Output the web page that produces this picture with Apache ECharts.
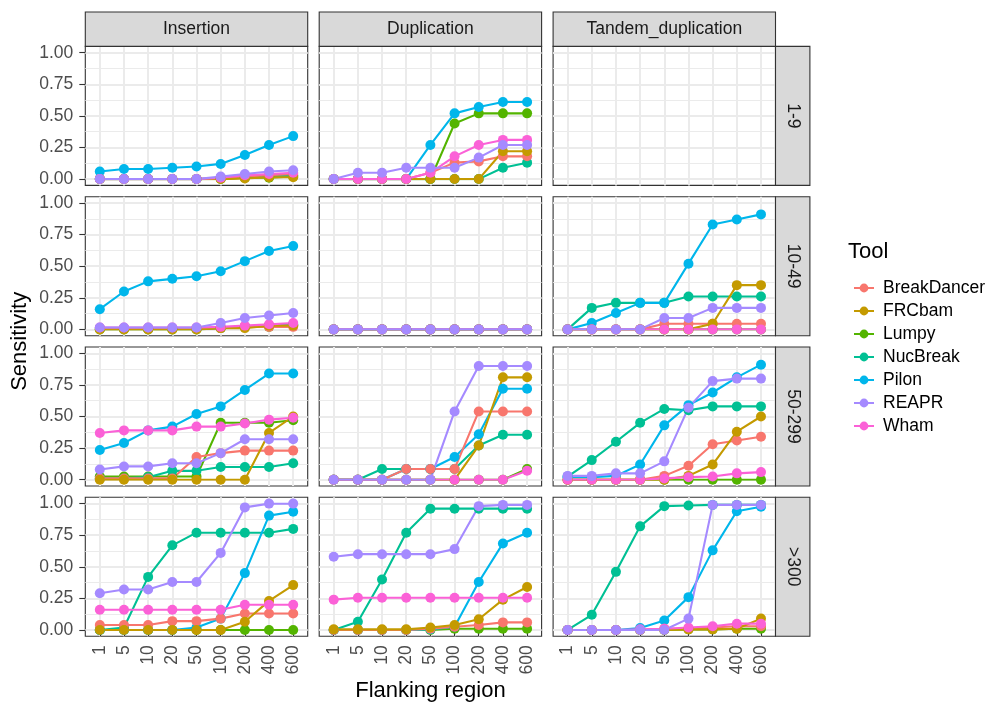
<!DOCTYPE html>
<html><head><meta charset="utf-8">
<script src="https://cdn.jsdelivr.net/npm/echarts@6/dist/echarts.min.js"></script>
<style>html,body{margin:0;padding:0;background:#fff}#c{width:994px;height:706px}</style>
</head><body><div id="c"></div>
<script>
// ---------------- data ----------------
const categories = ['1', '5', '10', '20', '50', '100', '200', '400', '600'];
const svTypes = ['Insertion', 'Duplication', 'Tandem_duplication'];
const sizeBins = ['1-9', '10-49', '50-299', '>300'];
const tools = ['BreakDancer', 'FRCbam', 'Lumpy', 'NucBreak', 'Pilon', 'REAPR', 'Wham'];
const toolColors = ['#F8766D', '#C49A00', '#53B400', '#00C094', '#00B6EB', '#A58AFF', '#FB61D7'];
const yTicks = [0, 0.25, 0.5, 0.75, 1];

// each panel: one row per tool (tool order above), one value per flanking category
const ins_1_9 = [
  [0, 0, 0, 0, 0, 0.01, 0.02, 0.03, 0.04],
  [0, 0, 0, 0, 0, 0, 0.005, 0.015, 0.015],
  [0, 0, 0, 0, 0, 0, 0.01, 0.01, 0.02],
  [0, 0, 0, 0, 0, 0.005, 0.01, 0.02, 0.03],
  [0.06, 0.08, 0.08, 0.09, 0.10, 0.12, 0.19, 0.27, 0.34],
  [0, 0, 0, 0, 0, 0.02, 0.04, 0.06, 0.07],
  [0, 0, 0, 0, 0, 0.01, 0.03, 0.04, 0.05]
];
const dup_1_9 = [
  [0, 0, 0, 0, 0.05, 0.13, 0.14, 0.18, 0.18],
  [0, 0, 0, 0, 0, 0, 0, 0.22, 0.22],
  [0, 0, 0, 0, 0, 0.44, 0.52, 0.52, 0.52],
  [0, 0, 0, 0, 0, 0, 0, 0.09, 0.13],
  [0, 0, 0, 0, 0.27, 0.52, 0.57, 0.61, 0.61],
  [0, 0.05, 0.05, 0.09, 0.09, 0.09, 0.17, 0.27, 0.27],
  [0, 0, 0, 0, 0.05, 0.18, 0.27, 0.31, 0.31]
];
const tan_1_9 = [[], [], [], [], [], [], []];
const ins_10_49 = [
  [0.01, 0.01, 0.01, 0.01, 0.01, 0.01, 0.02, 0.02, 0.02],
  [0, 0, 0, 0, 0, 0.01, 0.01, 0.03, 0.03],
  [0, 0, 0, 0, 0, 0.01, 0.02, 0.02, 0.03],
  [0.005, 0.005, 0.005, 0.005, 0.005, 0.01, 0.02, 0.03, 0.04],
  [0.16, 0.30, 0.38, 0.40, 0.42, 0.46, 0.54, 0.62, 0.66],
  [0.015, 0.015, 0.015, 0.015, 0.015, 0.05, 0.09, 0.11, 0.13],
  [0.015, 0.015, 0.015, 0.015, 0.015, 0.02, 0.03, 0.04, 0.05]
];
const dup_10_49 = [
  [0, 0, 0, 0, 0, 0, 0, 0, 0],
  [0, 0, 0, 0, 0, 0, 0, 0, 0],
  [0, 0, 0, 0, 0, 0, 0, 0, 0],
  [0, 0, 0, 0, 0, 0, 0, 0, 0],
  [0, 0, 0, 0, 0, 0, 0, 0, 0],
  [0, 0, 0, 0, 0, 0, 0, 0, 0],
  [0, 0, 0, 0, 0, 0, 0, 0, 0]
];
const tan_10_49 = [
  [0, 0, 0, 0, 0.045, 0.045, 0.045, 0.045, 0.045],
  [0, 0, 0, 0, 0, 0, 0.045, 0.35, 0.35],
  [0, 0, 0, 0, 0, 0, 0, 0, 0],
  [0, 0.17, 0.21, 0.21, 0.21, 0.26, 0.26, 0.26, 0.26],
  [0, 0.05, 0.13, 0.21, 0.21, 0.52, 0.83, 0.87, 0.91],
  [0, 0, 0, 0, 0.09, 0.09, 0.17, 0.17, 0.17],
  [0, 0, 0, 0, 0, 0, 0, 0, 0]
];
const ins_50_299 = [
  [0.01, 0.01, 0.01, 0.01, 0.18, 0.21, 0.23, 0.23, 0.23],
  [0, 0, 0, 0, 0, 0, 0, 0.37, 0.50],
  [0.025, 0.025, 0.025, 0.025, 0.025, 0.45, 0.45, 0.45, 0.47],
  [0.01, 0.01, 0.02, 0.07, 0.07, 0.10, 0.10, 0.10, 0.13],
  [0.235, 0.29, 0.39, 0.42, 0.52, 0.58, 0.71, 0.84, 0.84],
  [0.08, 0.105, 0.105, 0.13, 0.13, 0.21, 0.32, 0.32, 0.32],
  [0.37, 0.39, 0.39, 0.39, 0.42, 0.42, 0.445, 0.475, 0.49]
];
const dup_50_299 = [
  [0, 0, 0, 0.085, 0.085, 0.085, 0.54, 0.54, 0.54],
  [0, 0, 0, 0, 0, 0, 0.27, 0.81, 0.81],
  [0, 0, 0, 0, 0, 0, 0, 0, 0.085],
  [0, 0, 0.085, 0.085, 0.085, 0.085, 0.27, 0.355, 0.355],
  [0, 0, 0, 0.085, 0.085, 0.18, 0.36, 0.72, 0.72],
  [0, 0, 0, 0, 0, 0.54, 0.90, 0.90, 0.90],
  [0, 0, 0, 0, 0, 0, 0, 0, 0.07]
];
const tan_50_299 = [
  [0, 0, 0, 0, 0.03, 0.11, 0.28, 0.31, 0.34],
  [0, 0, 0, 0, 0, 0.03, 0.12, 0.38, 0.50],
  [0, 0, 0, 0, 0, 0, 0, 0, 0],
  [0.025, 0.155, 0.30, 0.45, 0.56, 0.55, 0.58, 0.58, 0.58],
  [0.02, 0.02, 0.03, 0.12, 0.43, 0.59, 0.69, 0.81, 0.91],
  [0.03, 0.03, 0.05, 0.05, 0.145, 0.57, 0.78, 0.80, 0.80],
  [0, 0, 0, 0, 0.01, 0.02, 0.025, 0.05, 0.06]
];
const ins_300 = [
  [0.04, 0.04, 0.04, 0.07, 0.07, 0.09, 0.13, 0.13, 0.13],
  [0, 0, 0, 0, 0, 0, 0.065, 0.23, 0.355],
  [0, 0, 0, 0, 0, 0, 0, 0, 0],
  [0, 0.02, 0.42, 0.67, 0.77, 0.77, 0.77, 0.77, 0.80],
  [0, 0, 0, 0, 0.02, 0.09, 0.45, 0.905, 0.935],
  [0.29, 0.32, 0.32, 0.38, 0.38, 0.61, 0.97, 1.0, 1.0],
  [0.16, 0.16, 0.16, 0.16, 0.16, 0.16, 0.20, 0.20, 0.20]
];
const dup_300 = [
  [0, 0, 0, 0, 0.01, 0.025, 0.04, 0.06, 0.06],
  [0.005, 0.005, 0.005, 0.005, 0.02, 0.04, 0.085, 0.24, 0.34],
  [0, 0, 0, 0, 0, 0.01, 0.01, 0.01, 0.01],
  [0, 0.065, 0.40, 0.77, 0.96, 0.96, 0.96, 0.96, 0.96],
  [0, 0, 0, 0, 0.005, 0.025, 0.38, 0.685, 0.77],
  [0.58, 0.60, 0.60, 0.60, 0.60, 0.64, 0.98, 0.99, 0.99],
  [0.24, 0.255, 0.255, 0.255, 0.255, 0.255, 0.255, 0.255, 0.255]
];
const tan_300 = [
  [0, 0, 0, 0, 0.01, 0.01, 0.02, 0.03, 0.03],
  [0, 0, 0, 0, 0, 0.005, 0.005, 0.01, 0.09],
  [0, 0, 0, 0, 0, 0.005, 0.005, 0.01, 0.01],
  [0, 0.12, 0.46, 0.82, 0.98, 0.985, 0.99, 0.99, 0.99],
  [0, 0, 0, 0.015, 0.075, 0.26, 0.63, 0.94, 0.975],
  [0, 0, 0, 0, 0, 0.09, 0.99, 0.99, 0.99],
  [0, 0, 0, 0.005, 0.01, 0.02, 0.03, 0.05, 0.05]
];

const panels = [
  [ins_1_9, dup_1_9, tan_1_9],
  [ins_10_49, dup_10_49, tan_10_49],
  [ins_50_299, dup_50_299, tan_50_299],
  [ins_300, dup_300, tan_300]
];

// ---------------- layout ----------------
const FONT = '"Liberation Sans", Arial, sans-serif';
const COL_LEFT = [85.3, 319.2, 553.1];
const PW = 222.4;
const ROW_TOP = [46.4, 196.7, 347.0, 497.3];
const PH = 139;
const STRIP = 34.4;
const STEP = PW / 9.2;
const INSET_X = 0.1 * STEP;
const INSET_Y = PH * 0.05 / 1.1;
const drawOrder = [2, 3, 4, 0, 1, 6, 5]; // z-order of tools
const TICK_FS = 17.5, TITLE_FS = 22;

const grids = [], xAxes = [], yAxes = [], series = [];

function cycle(n, idx, col) {
  const a = [];
  for (let i = 0; i < n; i++) a.push(idx.indexOf(i) >= 0 ? col : 'rgba(0,0,0,0)');
  return a;
}
const hidden = { axisLine: { show: false }, axisTick: { show: false }, axisLabel: { show: false } };

for (let r = 0; r < 4; r++) {
  for (let c = 0; c < 3; c++) {
    const p = r * 3 + c;
    const L = COL_LEFT[c], T = ROW_TOP[r];
    // outer panel grid (background, border, gridlines)
    grids.push({ left: L, top: T, width: PW, height: PH, show: true, backgroundColor: '#FFFFFF', borderColor: '#333333', borderWidth: 1.1 });
    // inner data grid
    grids.push({ left: L + INSET_X, top: T + INSET_Y, width: PW - 2 * INSET_X, height: PH - 2 * INSET_Y });
    xAxes.push(Object.assign({ gridIndex: 2 * p, type: 'value', min: -0.6, max: 8.6, interval: 0.2, silent: true,
      splitLine: { show: true, lineStyle: { color: cycle(5, [3], '#EBEBEB'), width: 2 } } }, hidden));
    xAxes.push({ gridIndex: 2 * p + 1, type: 'category', data: categories, boundaryGap: true, position: 'bottom',
      offset: INSET_Y, silent: true,
      axisLine: { show: false },
      axisTick: { show: r === 3, alignWithLabel: true, length: 6, lineStyle: { color: '#333333', width: 1.1 } },
      axisLabel: { show: r === 3, rotate: 90, margin: 9, fontSize: TICK_FS, fontFamily: FONT, color: '#4D4D4D', interval: 0 },
      splitLine: { show: false } });
    yAxes.push(Object.assign({ gridIndex: 2 * p, type: 'value', min: -0.05, max: 1.05, interval: 0.025, silent: true,
      splitLine: { show: true, lineStyle: { color: cycle(10, [2], '#EBEBEB'), width: 2 } } }, hidden));
    yAxes.push(Object.assign({ gridIndex: 2 * p, type: 'value', min: -0.05, max: 1.05, interval: 0.025, silent: true,
      splitLine: { show: true, lineStyle: { color: cycle(10, [7], '#EBEBEB'), width: 1 } } }, hidden));
    yAxes.push({ gridIndex: 2 * p + 1, type: 'value', min: yTicks[0], max: yTicks[yTicks.length - 1], interval: 0.25,
      position: 'left', offset: INSET_X, silent: true,
      axisLine: { show: false },
      axisTick: { show: c === 0, length: 6, lineStyle: { color: '#333333', width: 1.1 } },
      axisLabel: { show: c === 0, margin: 12, fontSize: TICK_FS, fontFamily: FONT, color: '#4D4D4D',
        formatter: v => v.toFixed(2) },
      splitLine: { show: false } });

    const panel = panels[r][c];
    const xi = 2 * p + 1, yi = 3 * p + 2;
    drawOrder.forEach(t => {
      if (!panel[t].length) return;
      series.push({ type: 'line', name: tools[t], xAxisIndex: xi, yAxisIndex: yi, data: panel[t],
        showSymbol: false, symbol: 'circle', z: 2, silent: true,
        lineStyle: { color: toolColors[t], width: 2.1 }, itemStyle: { color: toolColors[t] } });
    });
    drawOrder.forEach(t => {
      if (!panel[t].length) return;
      series.push({ type: 'scatter', name: tools[t], xAxisIndex: xi, yAxisIndex: yi, data: panel[t],
        symbol: 'circle', symbolSize: 10, z: 3, silent: true,
        itemStyle: { color: toolColors[t], opacity: 1 } });
    });
  }
}

// strips and titles
const graphics = [];
svTypes.forEach((s, c) => {
  graphics.push({ type: 'rect', shape: { x: COL_LEFT[c], y: ROW_TOP[0] - STRIP, width: PW, height: STRIP },
    style: { fill: '#D9D9D9', stroke: '#333333', lineWidth: 1.1 }, z: 10 });
  graphics.push({ type: 'text', x: COL_LEFT[c] + PW / 2, y: ROW_TOP[0] - STRIP / 2, z: 11,
    style: { text: s, align: 'center', verticalAlign: 'middle', fontSize: TICK_FS, fontFamily: FONT, fill: '#1A1A1A' } });
});
const stripX = COL_LEFT[2] + PW;
sizeBins.forEach((s, r) => {
  graphics.push({ type: 'rect', shape: { x: stripX, y: ROW_TOP[r], width: STRIP, height: PH },
    style: { fill: '#D9D9D9', stroke: '#333333', lineWidth: 1.1 }, z: 10 });
  graphics.push({ type: 'text', x: stripX + STRIP / 2, y: ROW_TOP[r] + PH / 2, rotation: -Math.PI / 2, z: 11,
    style: { text: s, align: 'center', verticalAlign: 'middle', fontSize: TICK_FS, fontFamily: FONT, fill: '#1A1A1A' } });
});
graphics.push({ type: 'text', x: 20, y: (ROW_TOP[0] + ROW_TOP[3] + PH) / 2, rotation: Math.PI / 2,
  style: { text: 'Sensitivity', align: 'center', verticalAlign: 'middle', fontSize: TITLE_FS, fontFamily: FONT, fill: '#000000' } });
graphics.push({ type: 'text', x: (COL_LEFT[0] + COL_LEFT[2] + PW) / 2, y: 691,
  style: { text: 'Flanking region', align: 'center', verticalAlign: 'middle', fontSize: TITLE_FS, fontFamily: FONT, fill: '#000000' } });
graphics.push({ type: 'text', x: 848, y: 252,
  style: { text: 'Tool', align: 'left', verticalAlign: 'middle', fontSize: TITLE_FS, fontFamily: FONT, fill: '#000000' } });

const chart = echarts.init(document.getElementById('c'), null, { renderer: 'canvas' });
chart.setOption({
  animation: false,
  backgroundColor: '#FFFFFF',
  grid: grids,
  xAxis: xAxes,
  yAxis: yAxes,
  legend: {
    data: tools, orient: 'vertical', left: 848, top: 274, itemWidth: 20, itemHeight: 11, itemGap: 5,
    selectedMode: false,
    textStyle: { fontSize: TICK_FS, fontFamily: FONT, color: '#000000', lineHeight: 18, padding: [0, 0, 0, 4] }
  },
  graphic: graphics,
  series: series
});
</script>
</body></html>
